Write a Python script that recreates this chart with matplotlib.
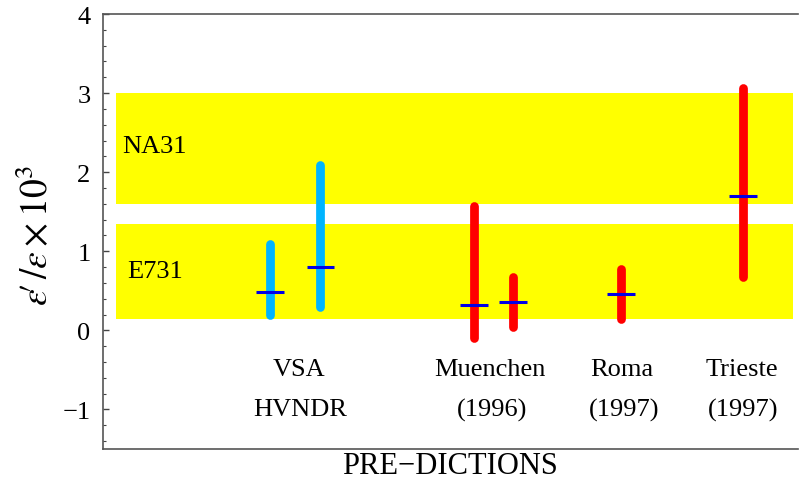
import matplotlib
matplotlib.use('Agg')
import matplotlib.pyplot as plt
from matplotlib.ticker import MultipleLocator

plt.rcParams['font.family'] = ['Liberation Serif', 'DejaVu Serif']
plt.rcParams['mathtext.fontset'] = 'stix'
plt.rcParams['axes.unicode_minus'] = True

# experimental bands (low, high)
bands = {'NA31': (1.6, 3.0), 'E731': (0.14, 1.34)}

# theoretical predictions
pred_x = [1.68, 2.19, 3.74, 4.13, 5.22, 6.45]
pred_lo = [0.20, 0.29, -0.10, 0.04, 0.14, 0.68]
pred_hi = [1.09, 2.09, 1.57, 0.68, 0.77, 3.07]
pred_mid = [0.49, 0.80, 0.32, 0.36, 0.46, 1.70]
pred_col = ['#00b4ff', '#00b4ff', '#ff0000', '#ff0000', '#ff0000', '#ff0000']

group_x = [1.97, 3.90, 5.23, 6.43]
group_top = ['VSA', 'Muenchen', 'Roma', 'Trieste']
group_bot = ['HVNDR', '(1996)', '(1997)', '(1997)']

fig = plt.figure(figsize=(7.99, 4.89), dpi=100)
ax = fig.add_axes([103/799, 1 - 450/489, 695/799, 435/489])

for name, (lo, hi) in bands.items():
    ax.fill_between([0.13, 6.95], lo, hi, color='#ffff00', lw=0, zorder=1)
ax.text(0.19, 2.33, 'NA31', fontsize=19, va='center', ha='left', zorder=3)
ax.text(0.24, 0.75, 'E731', fontsize=19, va='center', ha='left', zorder=3)

for x, lo, hi, mid, c in zip(pred_x, pred_lo, pred_hi, pred_mid, pred_col):
    ax.plot([x, x], [lo, hi], color=c, lw=6.3, solid_capstyle='round', zorder=4)
    ax.plot([x - 0.14, x + 0.14], [mid, mid], color='#0000e6', lw=2.2,
            solid_capstyle='butt', zorder=5)

for x, t, b in zip(group_x, group_top, group_bot):
    ax.text(x, -0.49, t, fontsize=19, ha='center', va='center')
    ax.text(x + 0.02, -1.0, b, fontsize=19, ha='center', va='center')

ax.set_xlim(0, 7)
ax.set_ylim(-1.5, 4)
ax.set_xticks([])
ax.yaxis.set_major_locator(MultipleLocator(1))
ax.yaxis.set_minor_locator(MultipleLocator(0.2))
ax.tick_params(axis='y', which='major', direction='in', length=4.5, width=1,
               color='#444444', labelsize=19, pad=9)
ax.tick_params(axis='y', which='minor', direction='in', length=2.2, width=0.8,
               color='#444444')
for s in ['left', 'top', 'bottom']:
    ax.spines[s].set_color('#555555')
    ax.spines[s].set_linewidth(1.2)
ax.spines['right'].set_visible(False)

fig.text(37/799, 1 - 236/489, r"$\varepsilon\!\prime\,/\varepsilon\times10^3$",
         rotation=90, ha='center', va='center', fontsize=27)
fig.text(450/799, 1 - 467/489, 'PRE\u2212DICTIONS', ha='center', va='center',
         fontsize=22)

fig.savefig('out.png', dpi=100)
